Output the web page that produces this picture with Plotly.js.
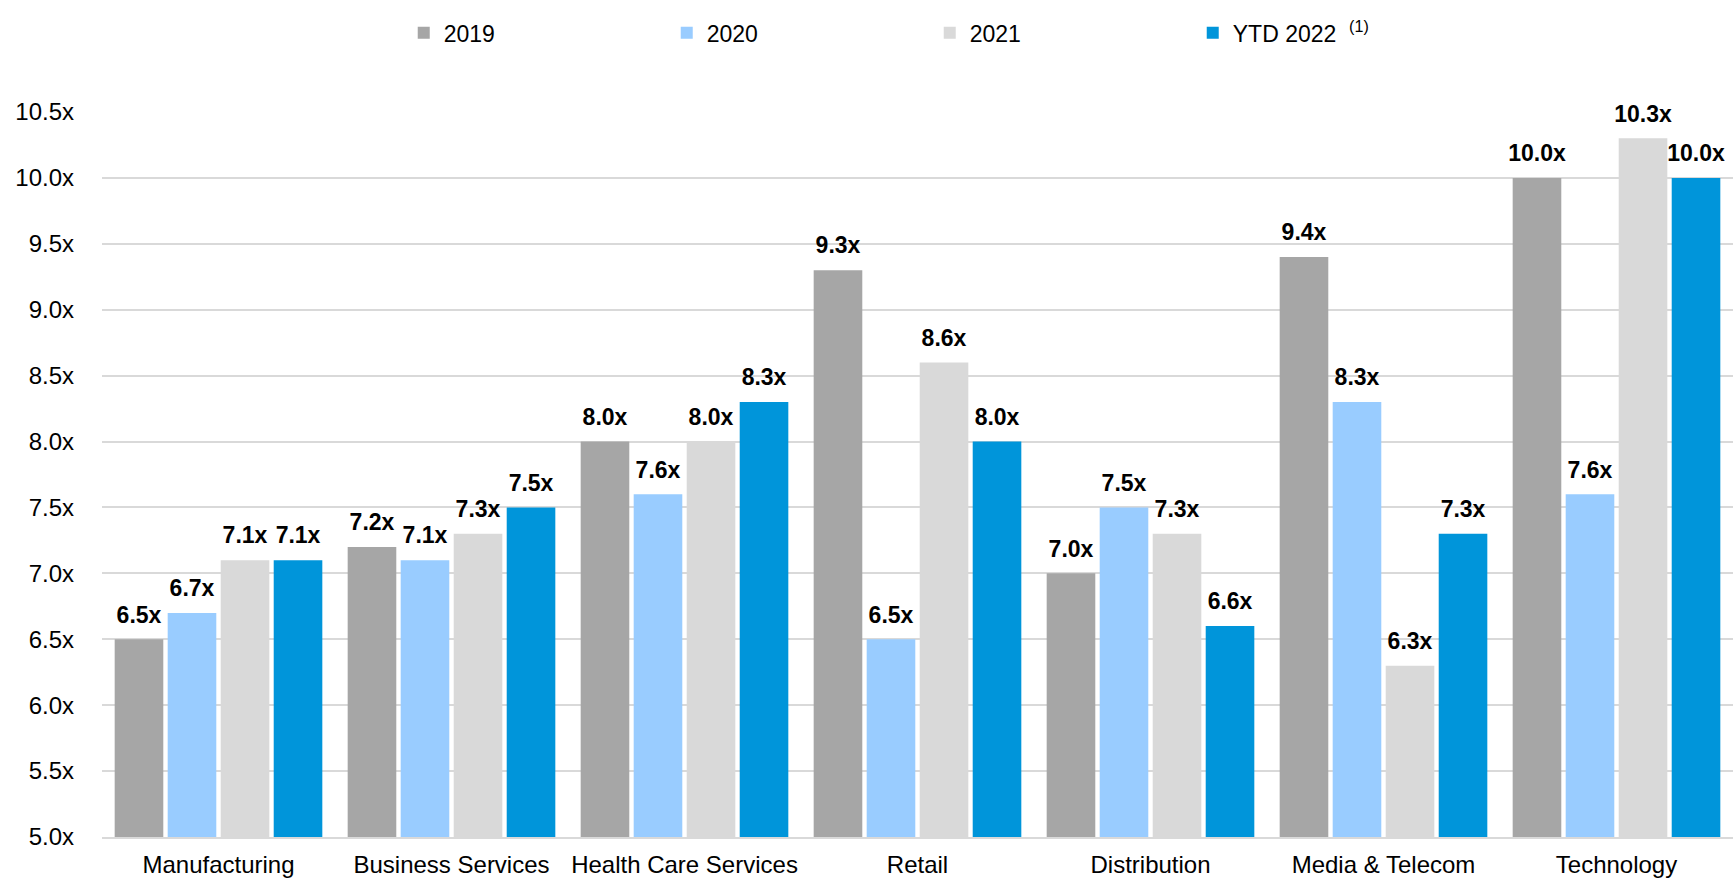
<!DOCTYPE html>
<html>
<head>
<meta charset="utf-8">
<script src="https://cdn.plot.ly/plotly-3.0.1.min.js"></script>
<style>html,body{margin:0;padding:0;background:#fff;}#chart{width:1733px;height:879px;}</style>
</head>
<body>
<div id="chart"></div>
<script>
const categories = ["Manufacturing", "Business Services", "Health Care Services", "Retail", "Distribution", "Media & Telecom", "Technology"];
const seriesNames = ["2019", "2020", "2021", "YTD 2022"];
const legendNames = ["2019", "2020", "2021", "YTD 2022&nbsp; <sup>(1)</sup>"];
const v2019 = [6.5, 7.2, 8.0, 9.3, 7.0, 9.4, 10.0];
const v2020 = [6.7, 7.1, 7.6, 6.5, 7.5, 8.3, 7.6];
const v2021 = [7.1, 7.3, 8.0, 8.6, 7.3, 6.3, 10.3];
const vYTD2022 = [7.1, 7.5, 8.3, 8.0, 6.6, 7.3, 10.0];
const colors = ["#A6A6A6", "#99CCFF", "#D9D9D9", "#0095DA"];

const allValues = [v2019, v2020, v2021, vYTD2022];
const FONT = "Liberation Sans, Arial, sans-serif";

const traces = [];
allValues.forEach((vals, i) => {
  traces.push({
    type: "bar",
    name: legendNames[i],
    x: categories,
    y: vals,
    offsetgroup: String(i),
    marker: {color: colors[i]},
    hovertemplate: seriesNames[i] + ": %{y:.1f}x<extra></extra>"
  });
});
allValues.forEach((vals, i) => {
  traces.push({
    type: "scatter",
    mode: "markers+text",
    orientation: "v",
    x: categories,
    y: vals,
    offsetgroup: String(i),
    text: vals.map(v => v.toFixed(1) + "x"),
    textposition: "top center",
    textfont: {family: FONT, size: 23, color: "#000", weight: "bold"},
    marker: {size: 16, color: "rgba(0,0,0,0)"},
    cliponaxis: false,
    showlegend: false,
    hoverinfo: "skip"
  });
});

const layout = {
  width: 1733,
  height: 879,
  margin: {l: 102, r: 0, t: 112, b: 42},
  paper_bgcolor: "#fff",
  plot_bgcolor: "#fff",
  font: {family: FONT, size: 24, color: "#000"},
  barmode: "group",
  bargap: 0.09,
  bargroupgap: 0.083,
  scattermode: "group",
  scattergap: 0.09,
  showlegend: true,
  legend: {
    orientation: "h",
    x: 0.185, xanchor: "left",
    y: 1.139, yanchor: "top",
    font: {family: FONT, size: 23, color: "#000"},
    entrywidth: 218,
    entrywidthmode: "pixels",
    traceorder: "normal"
  },
  xaxis: {
    type: "category",
    showgrid: false,
    showline: true,
    linecolor: "#D9D9D9",
    linewidth: 2,
    ticks: "",
    ticklabelstandoff: 5,
    tickfont: {family: FONT, size: 24, color: "#000"},
    fixedrange: true
  },
  yaxis: {
    range: [5, 10.5],
    dtick: 0.5,
    tick0: 5,
    tickformat: ".1f",
    ticksuffix: "x",
    showgrid: true,
    gridcolor: "#D9D9D9",
    gridwidth: 2,
    zeroline: false,
    showline: false,
    ticks: "",
    ticklabelstandoff: 27,
    tickfont: {family: FONT, size: 24, color: "#000"},
    fixedrange: true
  }
};

Plotly.newPlot("chart", traces, layout, {displayModeBar: false, responsive: false});
</script>
</body>
</html>
